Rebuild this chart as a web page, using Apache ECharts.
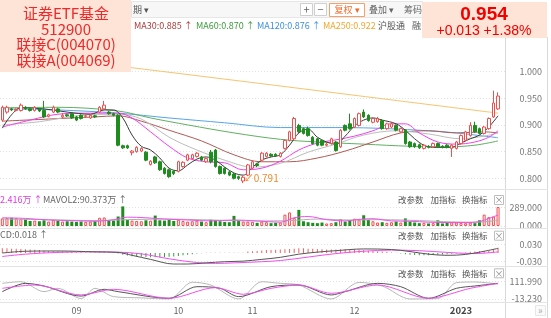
<!DOCTYPE html>
<html><head><meta charset="utf-8">
<script src="https://cdn.jsdelivr.net/npm/echarts@6/dist/echarts.min.js"></script>
<style>html,body{margin:0;padding:0;background:#fff;}#c{width:551px;height:318px;}</style>
</head><body><div id="c"></div>
<script>
// ---------- data ----------
const slotCount = 109; // 108 trading days + one empty slot on the right
const tickIndex = [16, 38, 54, 76, 99];
const tickText = ['09', '10', '11', '12', '2023'];

const opens = [.909,.924,.930,.927,.927,.933,.930,.927,.930,.927, .916,.924,.930,.915,.919,.921,.915,.918,.916,.913,
 .917,.924,.930,.924,.921,.918,.861,.861,.848,.850, .851,.849,.826,.840,.831,.819,.816,.813,.813,.822,
 .834,.837,.841,.840,.831,.849,.853,.822,.819,.812, .808,.803,.795,.806,.819,.827,.834,.841,.845,.845,
 .841,.856,.871,.874,.899,.893,.893,.877,.874,.871, .862,.865,.868,.859,.899,.902,.896,.899,.924,.918,
 .905,.906,.908,.893,.896,.899,.887,.890,.868,.865, .863,.856,.860,.859,.865,.860,.862,.856,.856,.865,
 .871,.880,.899,.893,.884,.893,.915,.930];
const closes = [.933,.933,.928,.929,.937,.930,.927,.933,.926,.915, .919,.933,.924,.918,.917,.913,.909,.912,.917,.918,
 .915,.933,.937,.921,.918,.862,.857,.857,.851,.858, .856,.834,.832,.829,.816,.809,.803,.809,.831,.830,
 .844,.844,.847,.834,.837,.831,.822,.809,.809,.806, .800,.800,.802,.825,.831,.824,.847,.847,.842,.842,
 .847,.871,.887,.912,.887,.884,.880,.865,.862,.862, .864,.874,.852,.890,.890,.893,.912,.921,.915,.908,
 .912,.912,.893,.902,.902,.890,.893,.865,.859,.859, .857,.862,.858,.865,.859,.858,.858,.862,.868,.880,
 .887,.899,.887,.884,.896,.912,.941,.954];
const lows = [.906,.921,.926,.925,.925,.928,.925,.925,.924,.913, .914,.922,.922,.912,.915,.911,.907,.910,.914,.911,
 .913,.922,.928,.919,.916,.860,.855,.855,.843,.848, .849,.832,.824,.827,.814,.807,.801,.806,.811,.820,
 .832,.835,.839,.832,.829,.828,.820,.807,.807,.804, .798,.797,.791,.804,.817,.821,.832,.839,.840,.840,
 .839,.854,.869,.872,.885,.882,.878,.863,.860,.860, .860,.863,.850,.857,.888,.891,.894,.897,.913,.906,
 .903,.904,.891,.891,.894,.888,.885,.863,.857,.857, .855,.854,.856,.857,.857,.856,.856,.840,.854,.863,
 .869,.878,.885,.882,.882,.891,.913,.928];
const highs = [.936,.936,.932,.931,.940,.935,.932,.935,.932,.945, .921,.936,.932,.922,.921,.923,.917,.920,.919,.920,
 .919,.935,.945,.926,.923,.920,.863,.863,.853,.860, .858,.851,.834,.842,.833,.821,.818,.815,.833,.832,
 .846,.846,.849,.842,.839,.853,.855,.824,.821,.814, .810,.805,.805,.827,.833,.829,.849,.849,.847,.847,
 .849,.873,.889,.915,.902,.895,.897,.879,.876,.873, .866,.876,.870,.892,.901,.921,.914,.923,.929,.920,
 .914,.915,.911,.904,.904,.901,.895,.892,.870,.867, .865,.864,.862,.867,.867,.862,.864,.864,.870,.882,
 .889,.905,.906,.895,.898,.914,.964,.961];

// moving averages read as [dayIndex, value]
const ma5 = [[0,.894],[2,.919],[4,.932],[9,.930],[14,.924],[19,.920],[22,.928],[24,.928],[26,.913],[28,.881],[30,.860],[32,.853],[34,.838],[36,.819],[38,.814],[40,.825],[42,.836],[44,.840],[46,.834],[48,.821],[50,.810],[52,.806],[54,.821],[56,.834],[58,.840],[60,.844],[62,.862],[64,.885],[66,.892],[68,.877],[70,.868],[72,.864],[74,.879],[76,.898],[78,.909],[80,.913],[82,.909],[85,.902],[87,.890],[89,.874],[91,.862],[93,.858],[97,.858],[99,.866],[101,.874],[103,.881],[105,.896],[107,.917]];
const ma10 = [[0,.896],[6,.909],[12,.920],[18,.922],[25,.922],[28,.913],[32,.887],[36,.860],[40,.838],[44,.831],[48,.829],[52,.816],[56,.819],[60,.832],[64,.853],[68,.866],[72,.872],[76,.879],[80,.889],[84,.902],[87,.902],[90,.885],[94,.868],[98,.864],[102,.868],[105,.877],[107,.889]];
const ma20 = [[0,.900],[8,.906],[16,.917],[25,.920],[30,.911],[36,.877],[42,.853],[48,.834],[54,.821],[60,.828],[66,.849],[72,.864],[78,.881],[85,.889],[92,.883],[99,.874],[104,.879],[107,.885]];
const ma30 = [[0,.907],[10,.911],[20,.915],[25,.917],[30,.907],[36,.890],[43,.870],[50,.844],[56,.831],[62,.831],[68,.838],[74,.851],[80,.868],[86,.885],[92,.889],[98,.885],[104,.887],[107,.885]];
const ma60 = [[0,.932],[12,.933],[25,.926],[32,.913],[40,.900],[50,.885],[60,.873],[68,.868],[78,.864],[88,.860],[96,.859],[102,.862],[107,.870]];
const ma120 = [[0,.930],[12,.928],[25,.922],[36,.913],[48,.904],[60,.895],[72,.895],[80,.894],[90,.890],[98,.885],[104,.879],[107,.876]];
const ma250 = [[0,1.035],[28,1.007],[58,.975],[82,.949],[107,.922]];

// volume (万)
const volumes = [120,125,130,125,110,105,80,85,75,90, 70,95,80,70,75,70,65,70,65,70, 75,130,135,90,85,150,310,95,85,80,
 75,90,85,165,90,85,95,80,100,80, 70,75,85,70,60,100,95,75,65,60, 160,85,70,70,65,50,70,60,45,50,
 55,180,215,130,255,75,60,50,45,55, 40,45,60,110,70,95,115,100,170,95, 75,55,60,50,60,70,55,120,70,55,
 45,50,40,45,90,40,50,60,55,50, 45,55,45,90,180,140,150,300];
const mavol1 = [[0,130],[5,120],[10,95],[15,85],[20,75],[24,100],[27,140],[31,130],[35,110],[40,95],[45,80],[50,95],[55,80],[60,60],[63,130],[66,150],[70,100],[74,80],[77,105],[80,115],[84,80],[88,75],[92,60],[96,55],[100,55],[103,70],[105,120],[107,172]];
const mavol2 = [[0,110],[10,100],[20,85],[27,100],[35,110],[45,95],[55,80],[62,85],[68,110],[75,95],[82,100],[90,85],[97,65],[102,60],[107,90]];

// MACD
const macdHist = [0.016,0.016,0.015,0.015,0.014,0.013,0.012,0.011,0.010,
 0.008,0.007,0.006,0.006,0.005,0.004,0.004,0.003,0.003,0.002,0.002,0.002,0.003,0.003,0.002,0.001,
 -0.002,-0.006,-0.009,-0.011,-0.012,-0.013,-0.014,-0.015,-0.015,-0.015,-0.014,-0.013,-0.012,
 -0.010,-0.008,-0.006,-0.004,-0.002,-0.001,0.001,0.001,0.001,0.001,0.001,0.001,0.001,0.001,0.001,
 0.005,0.006,0.007,0.009,0.010,0.010,0.011,0.012,0.013,0.014,0.015,0.016,0.016,0.015,0.015,0.014,0.013,0.012,0.012,0.012,0.013,0.013,0.012,0.012,0.011,0.010,0.008,0.007,0.006,0.005,0.004,0.002,0.001,
 -0.002,-0.004,-0.006,-0.007,-0.008,-0.008,-0.008,-0.007,-0.006,-0.005,-0.004,-0.003,-0.002,
 0.001,0.002,0.004,0.005,0.006,0.007,0.009,0.012,0.018];
const dif = [[0,0.000],[5,0.006],[12,0.007],[20,0.004],[25,0.002],[28,-0.008],[32,-0.022],[37,-0.038],[40,-0.038],[44,-0.034],[48,-0.030],[52,-0.028],[56,-0.022],[60,-0.015],[64,-0.004],[68,0.003],[72,0.008],[78,0.014],[84,0.012],[88,0.005],[92,-0.004],[96,-0.008],[100,-0.005],[104,0.006],[107,0.016]];
const dea = [[0,-0.012],[5,-0.004],[12,0.002],[20,0.004],[25,0.003],[30,-0.003],[36,-0.020],[42,-0.033],[46,-0.036],[50,-0.034],[56,-0.030],[60,-0.026],[66,-0.014],[72,-0.002],[78,0.006],[84,0.010],[90,0.008],[96,0.002],[102,-0.002],[107,0.004]];

// bottom oscillator
const oscD = [[0,64],[7,88],[17,16],[24,57],[36,-8],[46,69],[52,21],[58,64],[64,88],[71,28],[81,88],[92,-8],[101,64],[107,100]];
const oscK = [[0,40],[5,100],[9,81],[17,8],[22,57],[25,40],[36,-8],[42,76],[47,64],[51,4],[58,76],[64,88],[71,16],[74,40],[81,100],[86,76],[92,-8],[98,64],[102,81],[107,100]];
const oscJ = [[0,100],[4,112],[9,40],[12,64],[17,-10],[20,64],[24,4],[30,-5],[36,-13],[41,108],[45,88],[51,-13],[56,112],[60,100],[64,88],[71,-13],[77,107],[82,81],[88,-13],[94,-10],[98,105],[102,110],[107,95]];

const priceTicks = [0.80, 0.85, 0.90, 0.95, 1.00];
const volTicks = [0, 289];
const macdTicks = [-0.03, 0.03];
const oscTicks = [-13.23, 111.99];

// ---------- chart ----------
const FONT = '"Noto Sans CJK SC","Noto Sans",sans-serif';
const RED = '#ee4f4f', GREEN = '#1e8c1e';
const categories = Array.from({length: slotCount}, (_, i) => String(i));
const grids = [
  {top: 38, height: 151},
  {top: 206.4, height: 19.6},
  {top: 240, height: 26},
  {top: 278, height: 24}
].map(g => Object.assign({left: 0, right: 46, outerBoundsMode: 'none', containLabel: false}, g));

const xAxes = grids.map((g, gi) => ({
  type: 'category', gridIndex: gi, data: categories, boundaryGap: true,
  axisLine: {show: false}, axisTick: {show: false}, splitLine: {show: false},
  axisLabel: gi === 3 ? {
    show: true, margin: 4, color: '#666', fontSize: 9, fontFamily: FONT,
    interval: (idx) => tickIndex.includes(idx),
    formatter: (v, idx) => { const k = tickIndex.indexOf(idx); return k < 0 ? '' : (tickText[k] === '2023' ? '{b|2023}' : tickText[k]); },
    rich: {b: {fontWeight: 'bold', color: '#444', fontSize: 9.5}}
  } : {show: false}
}));

function yAx(gi, min, max, ticks, digits) {
  return {
    type: 'value', gridIndex: gi, position: 'right', min, max, scale: true,
    axisLine: {show: false},
    axisTick: {show: false, customValues: ticks},
    axisLabel: {customValues: ticks, align: 'right', margin: 37, color: '#777', fontSize: 9, fontFamily: FONT,
      formatter: v => v.toFixed(digits)},
    splitLine: {show: true, lineStyle: {color: '#e2e2e2', type: [1, 2], width: 1}}
  };
}
const yAxes = [
  yAx(0, 0.78, 1.0627, priceTicks, 3),
  yAx(1, 0, 310, volTicks, 3),
  yAx(2, -0.0448, 0.0448, macdTicks, 3),
  yAx(3, -34.9, 138.8, oscTicks, 3)
];

function line(name, data, color, xi, w, z, smooth) {
  return {name, type: 'line', data, xAxisIndex: xi, yAxisIndex: xi, showSymbol: false, symbol: 'none',
    smooth: smooth == null ? 0.35 : smooth, lineStyle: {color, width: w || 1}, z: z || 2, silent: true};
}

const candleData = opens.map((o, i) => [o, closes[i], lows[i], highs[i]]);
const isUp = i => closes[i] >= opens[i];

const series = [
  line('MA250', ma250, '#f6c46e', 0, 1, 1, 0.2),
  line('MA120', ma120, '#55a6e8', 0, 1, 1),
  line('MA60', ma60, '#62b062', 0, 1, 1),
  line('MA30', ma30, '#b05a55', 0, 1, 1),
  line('MA20', ma20, '#bdbdbd', 0, 1, 1),
  line('MA10', ma10, '#f040f0', 0, 1, 1),
  line('MA5', ma5, '#3a3a3a', 0, 1, 1),
  {
    name: 'K', type: 'candlestick', xAxisIndex: 0, yAxisIndex: 0, data: candleData, barWidth: 3, z: 3,
    itemStyle: {color: '#ffffff', color0: GREEN, borderColor: RED, borderColor0: GREEN, borderWidth: 1},
    markPoint: {
      symbol: 'circle', symbolSize: 1, itemStyle: {color: 'rgba(0,0,0,0)'},
      data: [{type: 'min', valueDim: 'lowest', name: 'low'}],
      label: {show: true, position: 'right', distance: 0, offset: [0, -5], color: '#f08a2c', fontSize: 10, fontFamily: FONT,
        formatter: p => '↙' + Number(p.value).toFixed(3)}
    }
  },
  {
    name: 'VOL', type: 'bar', xAxisIndex: 1, yAxisIndex: 1, barWidth: 3,
    data: volumes.map((v, i) => ({value: v, itemStyle: isUp(i) ? {color: '#ffffff', borderColor: RED, borderWidth: 1} : {color: GREEN}}))
  },
  line('MAVOL2', mavol2, '#b0b0b0', 1, 1, 4),
  line('MAVOL1', mavol1, '#f050f0', 1, 1, 4),
  {
    name: 'MACD', type: 'bar', xAxisIndex: 2, yAxisIndex: 2, barWidth: 1,
    data: macdHist.map(v => ({value: v, itemStyle: {color: v >= 0 ? '#f06060' : '#3a9a3a'}}))
  },
  line('DEA', dea, '#f050f0', 2, 1, 4),
  line('DIF', dif, '#555555', 2, 1, 4),
  line('J', oscJ, '#b8b8b8', 3, 1, 2, 0.3),
  line('K', oscK, '#555555', 3, 1, 3, 0.3),
  line('D', oscD, '#f050f0', 3, 1, 4, 0.3)
];

// ---------- overlay texts ----------
const G = [];
const txt = (text, x, y, color, size, opt) => G.push(Object.assign({type: 'text', z: 110,
  style: Object.assign({text, x, y, fill: color, font: `${size}px ${FONT}`, align: 'left', verticalAlign: 'middle'}, opt || {})}));
const rect = (x, y, w, h, fill, stroke, z) => G.push({type: 'rect', z: z || 105, shape: {x, y, width: w, height: h},
  style: {fill: fill || 'none', stroke: stroke || 'none', lineWidth: 1}});
const hline = (x1, x2, y, c) => G.push({type: 'line', z: 100, shape: {x1, y1: y, x2, y2: y}, style: {stroke: c, lineWidth: 1}});
const vline = (x, y1, y2, c) => G.push({type: 'line', z: 100, shape: {x1: x, y1, x2: x, y2}, style: {stroke: c, lineWidth: 1}});

// frame lines
vline(505.5, 37, 318, '#d9d9d9');
vline(547.5, 37, 318, '#d9d9d9');
[189.5, 228.5, 266.5, 302.5].forEach(y => hline(0, 548, y, '#e3e3e3'));

// toolbar
rect(131.5, 1.5, 291, 16, '#f7f7f7', '#e6e6e6', 104);
txt('期 ▾', 133, 10, '#555', 9);
rect(300.5, 3.5, 12, 12, '#fff', '#cfcfcf'); txt('+', 306.5, 9.5, '#666', 11, {align: 'center'});
rect(314.5, 3.5, 12, 12, '#fff', '#cfcfcf'); txt('−', 320.5, 9.5, '#666', 11, {align: 'center'});
rect(329.5, 3.5, 35, 13, '#fff', '#f3a36a'); txt('复权 ▾', 347, 10, '#f06a28', 9, {align: 'center'});
txt('叠加 ▾', 369, 10, '#666', 9);
txt('筹码', 404, 10, '#666', 9);

// MA legend row
txt('MA30:0.885 ↑', 134, 26, '#a83c3c', 9);
txt('MA60:0.870 ↑', 196, 26, '#3c9a3c', 9);
txt('MA120:0.876 ↑', 257, 26, '#3d8fe0', 9);
txt('MA250:0.922', 323, 26, '#f2a52c', 9);
txt('沪股通', 378, 26, '#555', 9);
txt('融', 412, 26, '#555', 9);

// title box
rect(0, 0, 131, 72, '#fde4d6', null, 120);
['证券ETF基金', '512900', '联接C(004070)', '联接A(004069)'].forEach((t, k) =>
  G.push({type: 'text', z: 121, style: {text: t, x: 66, y: [13.5, 29.5, 44.5, 60.5][k], fill: '#f0282a',
    font: `15px ${FONT}`, align: 'center', verticalAlign: 'middle'}}));

// price box
rect(422, 2, 125, 36, '#fde4d6', null, 120);
G.push({type: 'text', z: 121, style: {text: '0.954', x: 484, y: 14.5, fill: '#f20000', font: 'bold 19px "Liberation Sans",Arial,sans-serif', align: 'center', verticalAlign: 'middle'}});
G.push({type: 'text', z: 121, style: {text: '+0.013 +1.38%', x: 484, y: 31, fill: '#f20000', font: '14px "Liberation Sans",Arial,sans-serif', align: 'center', verticalAlign: 'middle'}});

// panel headers
txt('2.416万 ↑', 0, 199.5, '#e03ce0', 9);
txt('MAVOL2:90.373万 ↑', 43, 199.5, '#666', 9);
txt('CD:0.018 ↑', 0, 235, '#666', 9);
[200, 235.7, 273.3].forEach(y => {
  txt('改参数', 398, y, '#555', 8.5);
  txt('加指标', 430.5, y, '#555', 8.5);
  txt('换指标', 462, y, '#555', 8.5);
  rect(494.5, y - 4.5, 9, 9, '#fff', '#bdbdbd');
  txt('×', 499, y, '#888', 9, {align: 'center'});
});
rect(535.5, 305.5, 10, 10, '#fafafa', '#e6e6e6');
txt('»', 540.5, 310, '#aaa', 10, {align: 'center'});

const chart = echarts.init(document.getElementById('c'));
chart.setOption({
  animation: false, backgroundColor: '#ffffff',
  grid: grids, xAxis: xAxes, yAxis: yAxes, series,
  graphic: {elements: G}
});
</script></body></html>
